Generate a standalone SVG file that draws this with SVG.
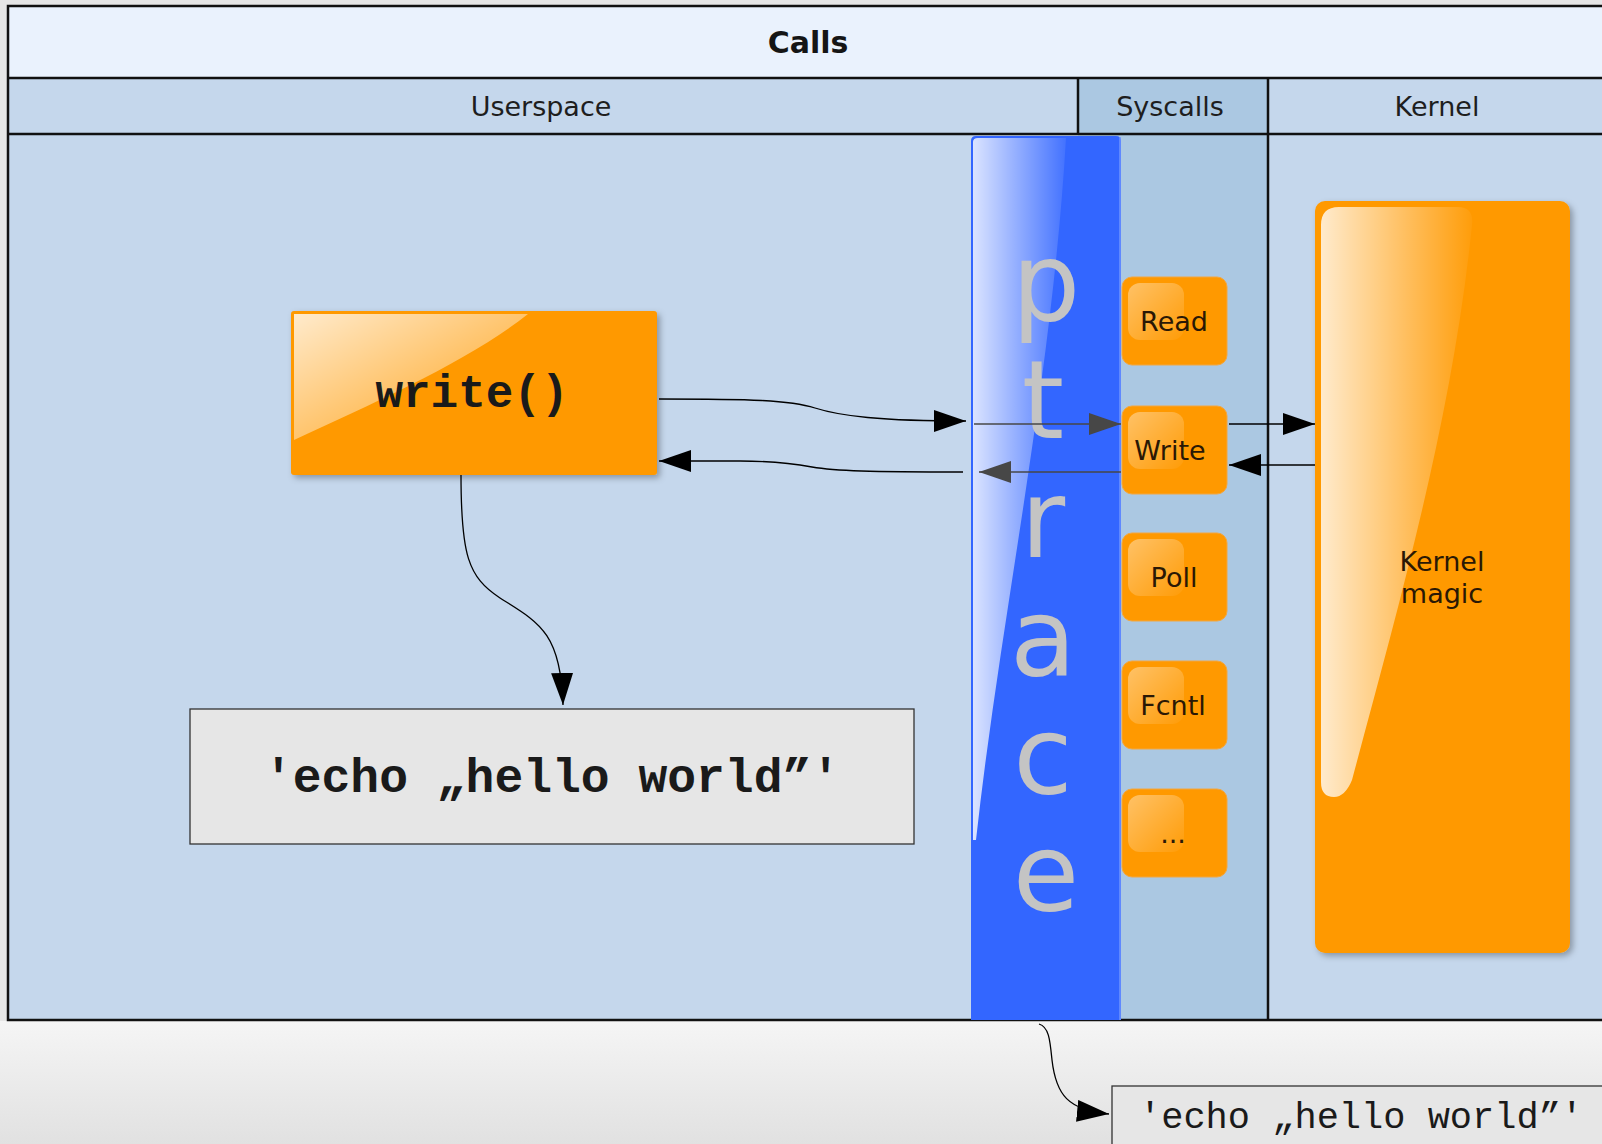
<svg xmlns="http://www.w3.org/2000/svg" width="1602" height="1144" viewBox="0 0 1602 1144">
  <style>
    .hdr { font-family: "DejaVu Sans", "Liberation Sans", sans-serif; font-size: 27px; fill: #1e1e1e; text-anchor: middle; }
    .title { font-family: "DejaVu Sans", "Liberation Sans", sans-serif; font-size: 30px; font-weight: bold; fill: #151515; text-anchor: middle; }
    .sys { fill: #ff9900; stroke: #f2a640; stroke-width: 1; }
    .syslbl { font-family: "DejaVu Sans", "Liberation Sans", sans-serif; font-size: 27px; fill: #2a1805; text-anchor: middle; }
    .pt { font-family: "DejaVu Sans", "Liberation Sans", sans-serif; font-size: 108px; fill: #c4c4c4; text-anchor: middle; }
    .code { font-family: "Liberation Mono", "DejaVu Sans Mono", monospace; fill: #1a1a1a; text-anchor: middle; }
    .edge { fill: none; stroke: #000; stroke-width: 1.3; }
    .edge-g { fill: none; stroke: #474747; stroke-width: 1.3; }
    .rule { stroke: #111; stroke-width: 2.5; }
  </style>
  <defs>
    <marker id="arr" markerUnits="userSpaceOnUse" markerWidth="34" markerHeight="24" refX="32" refY="11" orient="auto">
      <path d="M0,0 L32,11 L0,22 Z" fill="#000"/>
    </marker>
    <marker id="arr-g" markerUnits="userSpaceOnUse" markerWidth="34" markerHeight="24" refX="32" refY="11" orient="auto">
      <path d="M0,0 L32,11 L0,22 Z" fill="#474747"/>
    </marker>
    <linearGradient id="floor" x1="0" y1="0" x2="0" y2="1">
      <stop offset="0" stop-color="#f5f5f5"/>
      <stop offset="1" stop-color="#e1e1e1"/>
    </linearGradient>
    <linearGradient id="glossH" x1="0" y1="0" x2="1" y2="0">
      <stop offset="0" stop-color="#fff" stop-opacity="0.82"/>
      <stop offset="1" stop-color="#fff" stop-opacity="0.08"/>
    </linearGradient>
    <linearGradient id="glossK" x1="0" y1="0" x2="1" y2="0">
      <stop offset="0" stop-color="#fff" stop-opacity="0.8"/>
      <stop offset="1" stop-color="#fff" stop-opacity="0.04"/>
    </linearGradient>
    <linearGradient id="glossD" x1="0" y1="0" x2="1" y2="1">
      <stop offset="0" stop-color="#fff" stop-opacity="0.8"/>
      <stop offset="1" stop-color="#fff" stop-opacity="0.06"/>
    </linearGradient>
    <linearGradient id="glossS" x1="0" y1="0" x2="1" y2="1">
      <stop offset="0" stop-color="#fff" stop-opacity="0.4"/>
      <stop offset="1" stop-color="#fff" stop-opacity="0.03"/>
    </linearGradient>
    <filter id="shadow" x="-10%" y="-10%" width="120%" height="120%">
      <feDropShadow dx="3" dy="3" stdDeviation="3" flood-color="#000" flood-opacity="0.3"/>
    </filter>
  </defs>

  <!-- page -->
  <rect x="0" y="0" width="1602" height="1144" fill="#e6e6e6"/>
  <rect x="0" y="1021" width="1602" height="123" fill="url(#floor)"/>

  <!-- swimlane frame -->
  <g id="lanes">
    <rect x="8" y="6" width="1610" height="72" fill="#eaf2fd"/>
    <rect x="8" y="78" width="1610" height="56" fill="#c5d7ec"/>
    <rect x="1078" y="78" width="190" height="56" fill="#abc8e2"/>
    <rect x="8" y="134" width="1610" height="886" fill="#c5d7ec"/>
    <rect x="1078" y="134" width="190" height="886" fill="#abc8e2"/>
    <rect x="8" y="6" width="1610" height="1014" fill="none" class="rule"/>
    <line x1="8" y1="78" x2="1602" y2="78" class="rule"/>
    <line x1="8" y1="134" x2="1602" y2="134" class="rule"/>
    <line x1="1078" y1="78" x2="1078" y2="134" class="rule" stroke-width="2"/>
    <line x1="1268" y1="78" x2="1268" y2="1020" class="rule" stroke-width="2"/>
    <text x="808" y="53" class="title">Calls</text>
    <text x="541" y="116" class="hdr">Userspace</text>
    <text x="1170" y="116" class="hdr">Syscalls</text>
    <text x="1437" y="116" class="hdr">Kernel</text>
  </g>

  <!-- ptrace bar -->
  <g id="ptrace">
    <path d="M971,1020 L971,141 Q971,136 976,136 L1116,136 Q1121,136 1121,141 L1121,1020 Z" fill="#3366ff"/>
    <path d="M973,142 Q973,138 978,138 L1066,138 C1052,380 1000,620 976,840 L973,840 Z" fill="url(#glossH)"/>
    <line x1="1120" y1="137" x2="1120" y2="1020" stroke="#6f95ff" stroke-width="1.5"/>
    <text x="1046" y="320" class="pt">p</text>
    <text x="1043" y="438" class="pt">t</text>
    <text x="1043" y="557" class="pt">r</text>
    <text x="1043" y="675" class="pt">a</text>
    <text x="1043" y="793" class="pt">c</text>
    <text x="1046" y="910" class="pt">e</text>
  </g>

  <!-- syscall entries -->
  <g id="sys-read">
    <rect x="1122" y="277" width="105" height="88" rx="10" class="sys"/>
    <rect x="1128" y="283" width="56" height="57" rx="12" fill="url(#glossS)"/>
    <text x="1174" y="331" class="syslbl">Read</text>
  </g>
  <g id="sys-write">
    <rect x="1122" y="406" width="105" height="88" rx="10" class="sys"/>
    <rect x="1128" y="412" width="56" height="57" rx="12" fill="url(#glossS)"/>
    <text x="1170" y="460" class="syslbl">Write</text>
  </g>
  <g id="sys-poll">
    <rect x="1122" y="533" width="105" height="88" rx="10" class="sys"/>
    <rect x="1128" y="539" width="56" height="57" rx="12" fill="url(#glossS)"/>
    <text x="1174" y="587" class="syslbl">Poll</text>
  </g>
  <g id="sys-fcntl">
    <rect x="1122" y="661" width="105" height="88" rx="10" class="sys"/>
    <rect x="1128" y="667" width="56" height="57" rx="12" fill="url(#glossS)"/>
    <text x="1173" y="715" class="syslbl">Fcntl</text>
  </g>
  <g id="sys-more">
    <rect x="1122" y="789" width="105" height="88" rx="10" class="sys"/>
    <rect x="1128" y="795" width="56" height="57" rx="12" fill="url(#glossS)"/>
    <text x="1173" y="843" class="syslbl" font-size="20">...</text>
  </g>

  <!-- kernel -->
  <g id="kernel-magic">
    <rect x="1315" y="201" width="255" height="752" rx="10" fill="#ff9900" filter="url(#shadow)"/>
    <path d="M1321,225 Q1321,207 1339,207 L1458,207 Q1474,207 1472,225 C1452,420 1400,600 1352,780 Q1345,797 1334,797 Q1321,797 1321,782 Z" fill="url(#glossK)"/>
    <text x="1442" y="571" class="syslbl">Kernel</text>
    <text x="1442" y="603" class="syslbl">magic</text>
  </g>

  <!-- userspace call -->
  <g id="write-call">
    <rect x="291" y="311" width="366" height="164" rx="3" fill="#ff9900" filter="url(#shadow)"/>
    <path d="M294,314 L528,314 C470,360 380,400 294,440 Z" fill="url(#glossD)"/>
    <text x="472" y="407" class="code" font-size="46" font-weight="bold">write()</text>
  </g>

  <g id="echo-inner">
    <rect x="190" y="709" width="724" height="135" fill="#e6e6e6" stroke="#333" stroke-width="1.3"/>
    <text x="552" y="792" class="code" font-size="48" font-weight="bold">'echo „hello world”'</text>
  </g>

  <g id="echo-output">
    <rect x="1112" y="1086" width="520" height="80" fill="#e6e6e6" stroke="#333" stroke-width="1.3"/>
    <text x="1139" y="1128" class="code" font-size="37" style="text-anchor:start" fill="#333">'echo „hello world”'</text>
  </g>

  <!-- connectors -->
  <g id="connectors">
    <path class="edge" d="M659,399 C750,399 790,400 815,408 C840,416 880,421 966,421" marker-end="url(#arr)"/>
    <path class="edge" d="M963,472 C870,472 835,471 812,467 C790,463 770,461 740,461 L659,461" marker-end="url(#arr)"/>
    <path class="edge-g" d="M974,424 L1121,424" marker-end="url(#arr-g)"/>
    <path class="edge-g" d="M1121,472 L979,472" marker-end="url(#arr-g)"/>
    <path class="edge" d="M1229,424 L1315,424" marker-end="url(#arr)"/>
    <path class="edge" d="M1315,465 L1229,465" marker-end="url(#arr)"/>
    <path class="edge" d="M461,475 C461,555 468,577 500,598 C538,622 561,632 563,705" marker-end="url(#arr)"/>
    <path class="edge" d="M1039,1024 C1049,1027 1050,1040 1052,1060 C1056,1095 1068,1110 1109,1114" marker-end="url(#arr)"/>
  </g>
</svg>
